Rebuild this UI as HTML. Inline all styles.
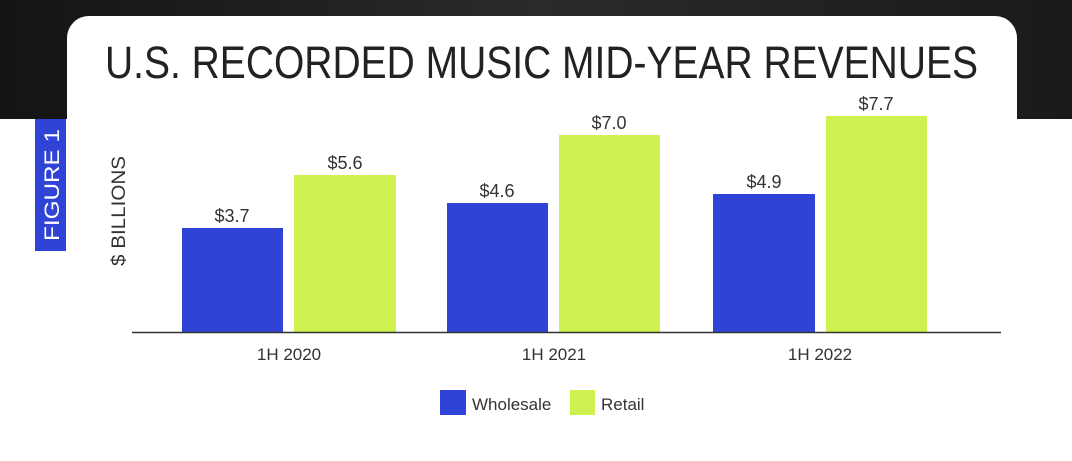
<!DOCTYPE html>
<html><head><style>
body{margin:0;width:1072px;height:456px;overflow:hidden;background:#fff;}
</style></head><body>
<svg width="1072" height="456" xmlns="http://www.w3.org/2000/svg" font-family="Liberation Sans, sans-serif">
<defs><linearGradient id="g" x1="0" x2="1" y1="0" y2="0">
<stop offset="0" stop-color="#141414"/><stop offset="0.5" stop-color="#2a2a2a"/><stop offset="1" stop-color="#1a1a1a"/></linearGradient></defs>
<rect x="0" y="0" width="1072" height="119" fill="url(#g)"/>
<rect x="67" y="16" width="950" height="460" rx="22" fill="#fff"/>
<rect x="35" y="119" width="31" height="132" fill="#2f44d6"/>
<text transform="translate(59,185) rotate(-90)" text-anchor="middle" font-size="21" fill="#fff" textLength="112" lengthAdjust="spacingAndGlyphs">FIGURE 1</text>
<text x="105" y="78" font-size="45" fill="#222" textLength="873" lengthAdjust="spacingAndGlyphs">U.S. RECORDED MUSIC MID-YEAR REVENUES</text>
<text transform="translate(125,211) rotate(-90)" text-anchor="middle" font-size="19" fill="#333" textLength="110" lengthAdjust="spacingAndGlyphs">$ BILLIONS</text>
<g fill="#2f44d6">
<rect x="182" y="228" width="101" height="104"/>
<rect x="447" y="203" width="101" height="129"/>
<rect x="713" y="194" width="102" height="138"/>
</g>
<g fill="#cef150">
<rect x="294" y="175" width="102" height="157"/>
<rect x="559" y="135" width="101" height="197"/>
<rect x="826" y="116" width="101" height="216"/>
</g>
<line x1="132" y1="332.5" x2="1001" y2="332.5" stroke="#333" stroke-width="1.5"/>
<g font-size="18" fill="#333" text-anchor="middle">
<text x="232" y="222">$3.7</text>
<text x="345" y="169">$5.6</text>
<text x="497" y="197">$4.6</text>
<text x="609" y="129">$7.0</text>
<text x="764" y="188">$4.9</text>
<text x="876" y="110">$7.7</text>
<text x="289" y="360" font-size="17">1H 2020</text>
<text x="554" y="360" font-size="17">1H 2021</text>
<text x="820" y="360" font-size="17">1H 2022</text>
</g>
<rect x="440" y="390" width="26" height="25" fill="#2f44d6"/>
<text x="472" y="410" font-size="17" fill="#333">Wholesale</text>
<rect x="570" y="390" width="25" height="25" fill="#cef150"/>
<text x="601" y="410" font-size="17" fill="#333">Retail</text>
</svg>
</body></html>
